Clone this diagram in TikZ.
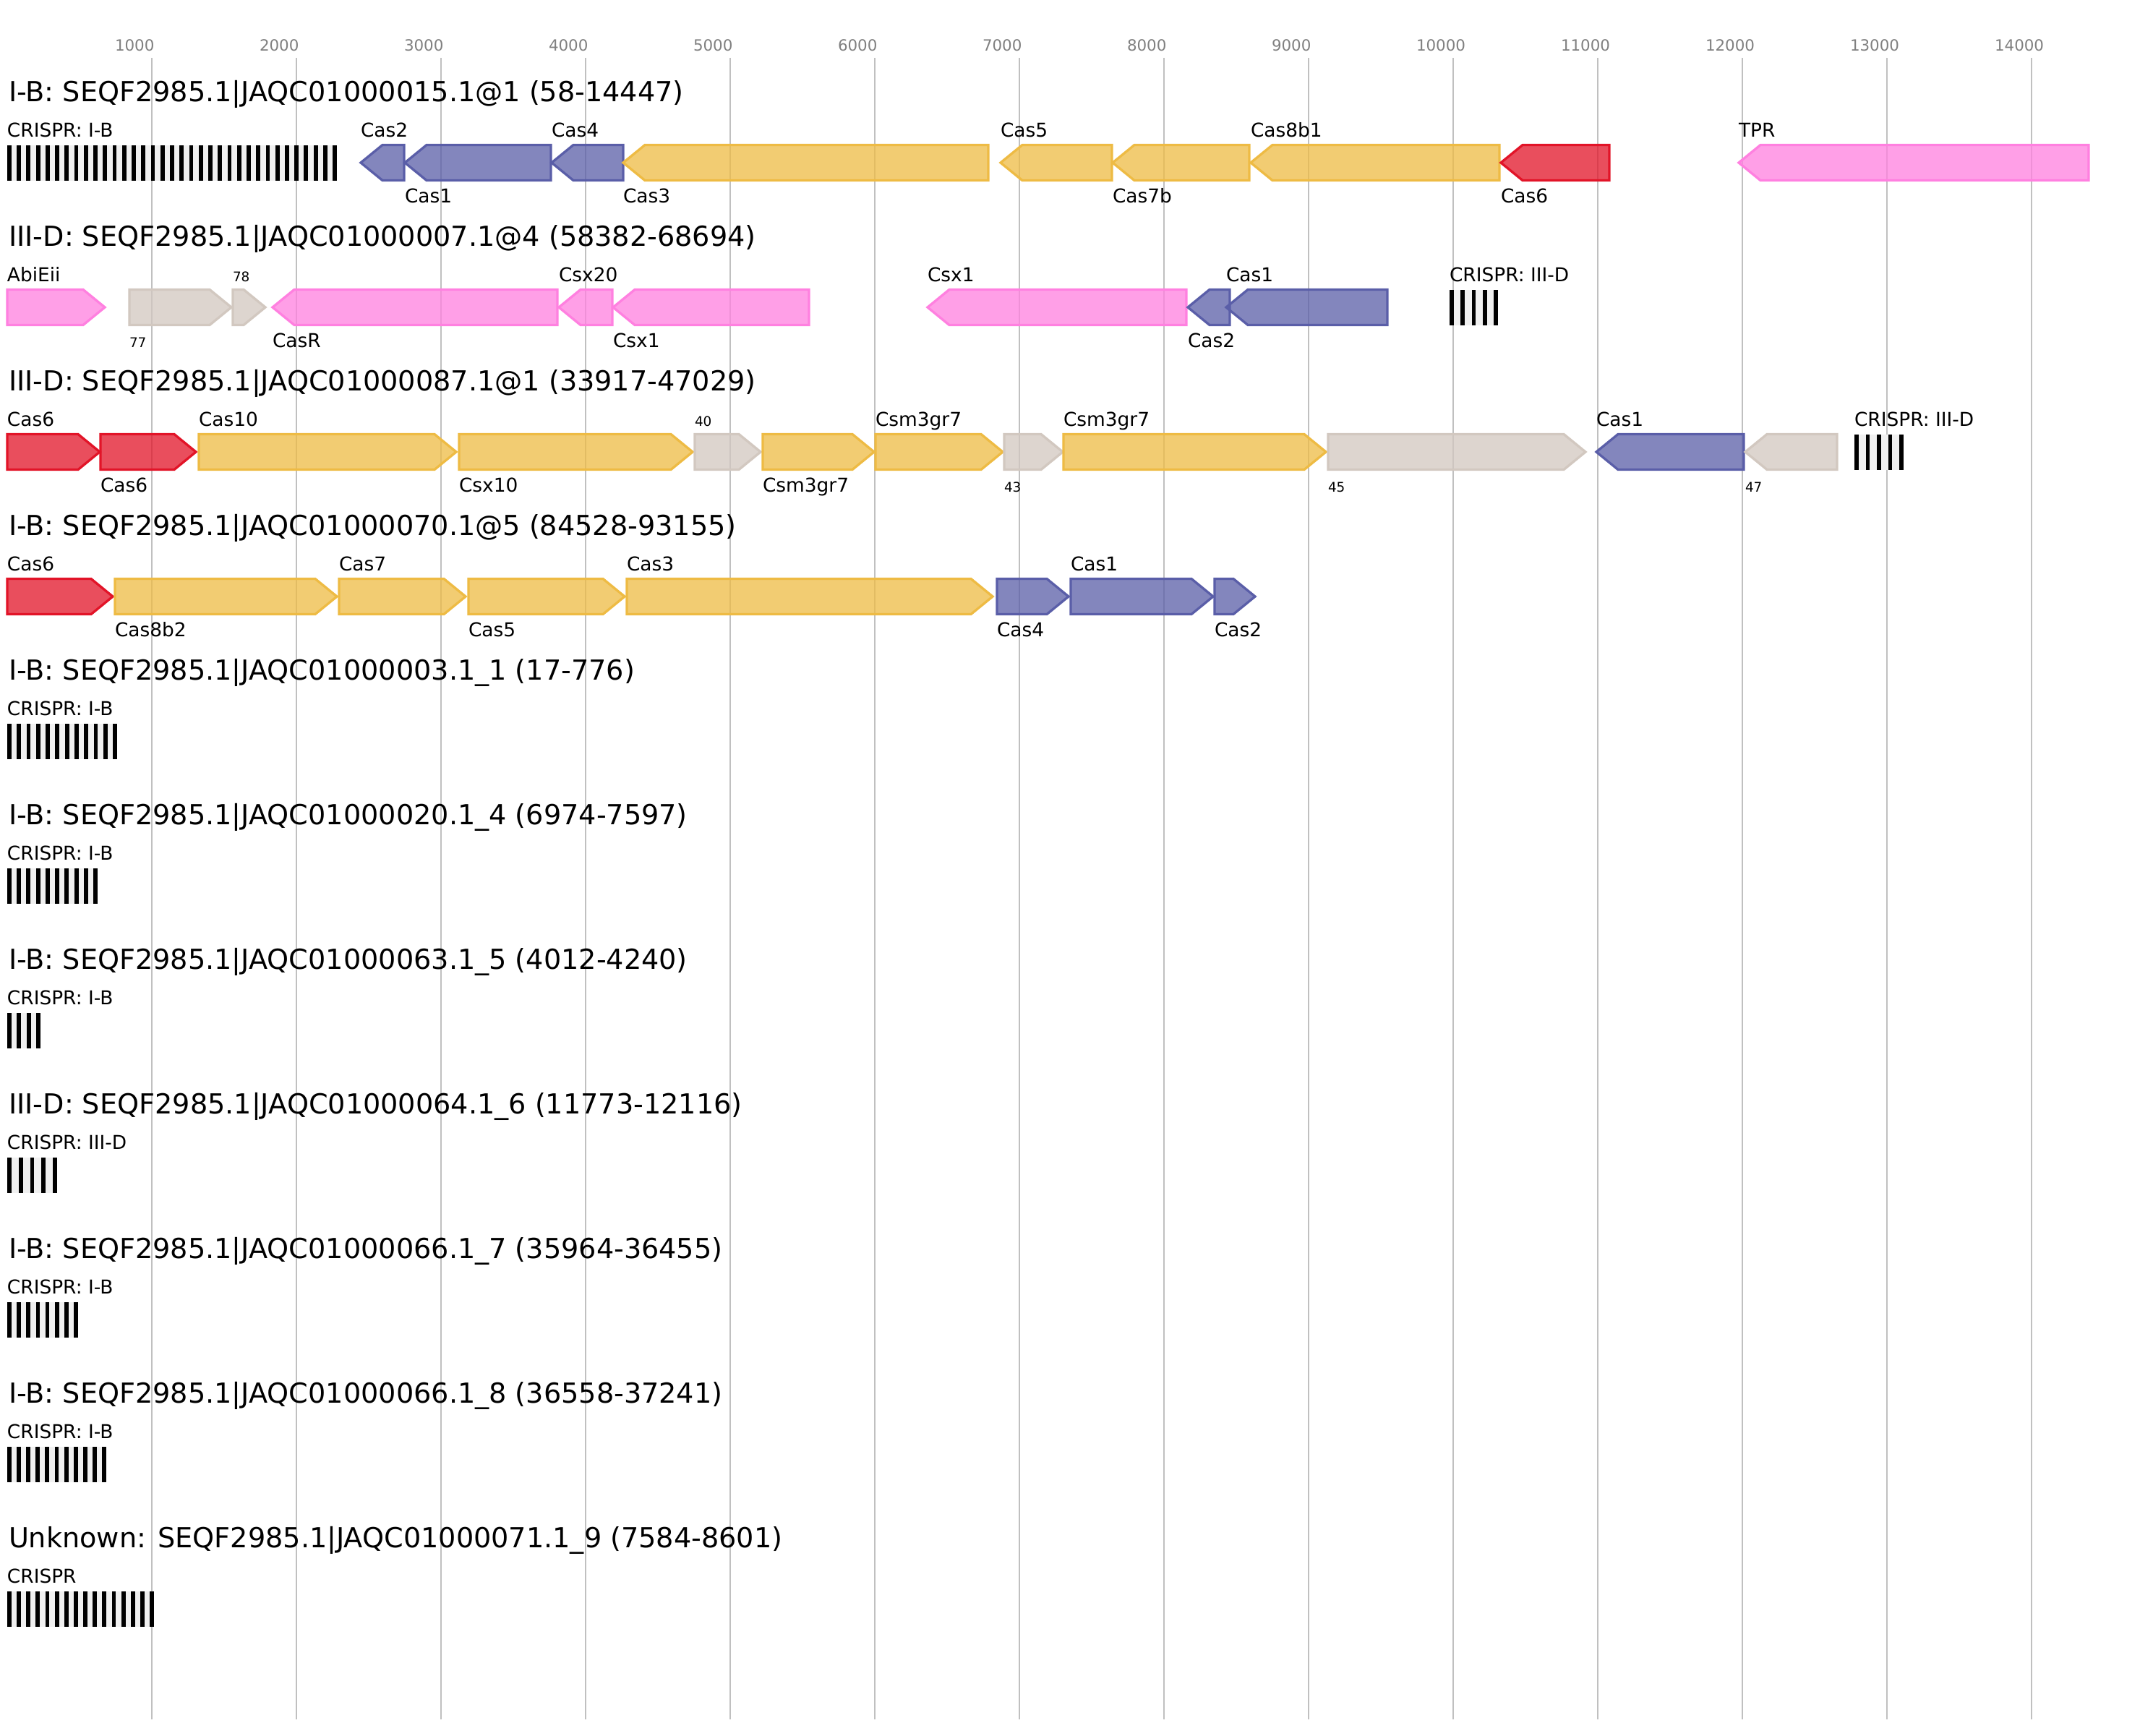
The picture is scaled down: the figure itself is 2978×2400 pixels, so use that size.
\documentclass[tikz,border=0pt]{standalone}
\usepackage{fontspec}
\setmainfont{DejaVu Sans}
\definecolor{cblue}{RGB}{90,94,168}
\definecolor{cyellow}{RGB}{238,187,68}
\definecolor{cred}{RGB}{226,20,40}
\definecolor{cpink}{RGB}{255,128,224}
\definecolor{cgray}{RGB}{210,200,192}
\definecolor{gridgray}{RGB}{192,192,192}
\definecolor{tickgray}{RGB}{128,128,128}
\definecolor{barlight}{RGB}{240,240,240}
\tikzset{
 gene/.style={draw=#1, fill=#1, fill opacity=0.75, line width=1.65pt},
 lbl/.style={font=\fontsize{13.2}{15}\selectfont, anchor=base west, inner sep=0pt, outer sep=0pt},
 sml/.style={font=\fontsize{9.2}{11}\selectfont, anchor=base west, inner sep=0pt, outer sep=0pt},
 ttl/.style={font=\fontsize{19.1}{22}\selectfont, anchor=base west, inner sep=0pt, outer sep=0pt},
 tck/.style={font=\fontsize{10.7}{12}\selectfont, text=tickgray, anchor=base west, inner sep=0pt, outer sep=0pt},
 gridln/.style={draw=gridgray, line width=1pt}
}
\newcommand\gF[4]{%
  \pgfmathsetmacro\hl{min(30,0.7*(#2-#1))}%
  \draw[gene=#4] (#1,#3-24.5) -- (#2-\hl,#3-24.5) -- (#2,#3) -- (#2-\hl,#3+24.5) -- (#1,#3+24.5) -- cycle;}
\newcommand\gR[4]{%
  \pgfmathsetmacro\hl{min(30,0.7*(#2-#1))}%
  \draw[gene=#4] (#1,#3) -- (#1+\hl,#3-24.5) -- (#2,#3-24.5) -- (#2,#3+24.5) -- (#1+\hl,#3+24.5) -- cycle;}
\newcommand\cArr[4]{%
  \fill[barlight] (#1,#3-24.5) rectangle (#2,#3+24.5);
  \pgfmathsetmacro\pp{(#2-#1-5.8)/(#4-1)}%
  \pgfmathtruncatemacro\nn{#4-1}%
  \foreach \i in {0,...,\nn} \fill[black] ({#1+\i*\pp},#3-24.5) rectangle ({#1+\i*\pp+5.8},#3+24.5);}
\begin{document}
\begin{tikzpicture}[x=0.5pt,y=-0.5pt]
\useasboundingbox (0,0) rectangle (2978,2400);
\fill[white] (0,0) rectangle (2978,2400);
% grid and ticks
\foreach \k in {1,...,14} {
  \pgfmathsetmacro\gx{10+200*\k}
  \draw[gridln] (\gx,80) -- (\gx,2378);
  \pgfmathtruncatemacro\bp{1000*\k}
  \node[tck] (tick\k) at (\gx-51,70) {\bp};
}
% ===== Row 1 =====
\node[ttl] (t1) at (12,140) {I-B: SEQF2985.1|JAQC01000015.1@1 (58-14447)};
\cArr{10}{466}{225}{35}
\node[lbl] (r1crispr) at (10,189) {CRISPR: I-B};
\gR{499}{559}{225}{cblue}   \node[lbl] (r1cas2) at (499,189) {Cas2};
\gR{560}{762}{225}{cblue}   \node[lbl] (r1cas1) at (560,280) {Cas1};
\gR{763}{862}{225}{cblue}   \node[lbl] (r1cas4) at (763,189) {Cas4};
\gR{862}{1367}{225}{cyellow} \node[lbl] (r1cas3) at (862,280) {Cas3};
\gR{1384}{1538}{225}{cyellow} \node[lbl] (r1cas5) at (1384,189) {Cas5};
\gR{1539}{1728}{225}{cyellow} \node[lbl] (r1cas7b) at (1539,280) {Cas7b};
\gR{1730}{2074}{225}{cyellow} \node[lbl] (r1cas8b1) at (1730,189) {Cas8b1};
\gR{2076}{2226}{225}{cred}  \node[lbl] (r1cas6) at (2076,280) {Cas6};
\gR{2405}{2889}{225}{cpink} \node[lbl] (r1tpr) at (2405,189) {TPR};
% ===== Row 2 =====
\node[ttl] (t2) at (12,340) {III-D: SEQF2985.1|JAQC01000007.1@4 (58382-68694)};
\gF{10}{145}{425}{cpink}   \node[lbl] (r2abi) at (10,389) {AbiEii};
\gF{179}{320}{425}{cgray}  \node[sml] (r2g77) at (179,480) {77};
\gF{322}{367}{425}{cgray}  \node[sml] (r2g78) at (322,389) {78};
\gR{377}{771}{425}{cpink}  \node[lbl] (r2casr) at (377,480) {CasR};
\gR{773}{847}{425}{cpink}  \node[lbl] (r2csx20) at (773,389) {Csx20};
\gR{848}{1119}{425}{cpink} \node[lbl] (r2csx1a) at (848,480) {Csx1};
\gR{1283}{1641}{425}{cpink} \node[lbl] (r2csx1b) at (1283,389) {Csx1};
\gR{1643}{1701}{425}{cblue} \node[lbl] (r2cas2) at (1643,480) {Cas2};
\gR{1696}{1919}{425}{cblue} \node[lbl] (r2cas1) at (1696,389) {Cas1};
\cArr{2005}{2072}{425}{5}
\node[lbl] (r2crispr) at (2005,389) {CRISPR: III-D};
% ===== Row 3 =====
\node[ttl] (t3) at (12,540) {III-D: SEQF2985.1|JAQC01000087.1@1 (33917-47029)};
\gF{10}{138}{625}{cred}     \node[lbl] (r3cas6a) at (10,589) {Cas6};
\gF{139}{271}{625}{cred}    \node[lbl] (r3cas6b) at (139,680) {Cas6};
\gF{275}{631}{625}{cyellow} \node[lbl] (r3cas10) at (275,589) {Cas10};
\gF{635}{958}{625}{cyellow} \node[lbl] (r3csx10) at (635,680) {Csx10};
\gF{961}{1052}{625}{cgray}  \node[sml] (r3g40) at (961,589) {40};
\gF{1055}{1209}{625}{cyellow} \node[lbl] (r3csm3a) at (1055,680) {Csm3gr7};
\gF{1211}{1387}{625}{cyellow} \node[lbl] (r3csm3b) at (1211,589) {Csm3gr7};
\gF{1389}{1470}{625}{cgray}  \node[sml] (r3g43) at (1389,680) {43};
\gF{1471}{1834}{625}{cyellow} \node[lbl] (r3csm3c) at (1471,589) {Csm3gr7};
\gF{1837}{2193}{625}{cgray}  \node[sml] (r3g45) at (1837,680) {45};
\gR{2208}{2412}{625}{cblue}  \node[lbl] (r3cas1) at (2208,589) {Cas1};
\gR{2414}{2541}{625}{cgray}  \node[sml] (r3g47) at (2414,680) {47};
\cArr{2565}{2633}{625}{5}
\node[lbl] (r3crispr) at (2565,589) {CRISPR: III-D};
% ===== Row 4 =====
\node[ttl] (t4) at (12,740) {I-B: SEQF2985.1|JAQC01000070.1@5 (84528-93155)};
\gF{10}{156}{825}{cred}      \node[lbl] (r4cas6) at (10,789) {Cas6};
\gF{159}{466}{825}{cyellow}  \node[lbl] (r4cas8b2) at (159,880) {Cas8b2};
\gF{469}{644}{825}{cyellow}  \node[lbl] (r4cas7) at (469,789) {Cas7};
\gF{648}{864}{825}{cyellow}  \node[lbl] (r4cas5) at (648,880) {Cas5};
\gF{867}{1373}{825}{cyellow} \node[lbl] (r4cas3) at (867,789) {Cas3};
\gF{1379}{1478}{825}{cblue}  \node[lbl] (r4cas4) at (1379,880) {Cas4};
\gF{1481}{1678}{825}{cblue}  \node[lbl] (r4cas1) at (1481,789) {Cas1};
\gF{1680}{1736}{825}{cblue}  \node[lbl] (r4cas2) at (1680,880) {Cas2};
% ===== Rows 5-11 =====
\node[ttl] (t5) at (12,940) {I-B: SEQF2985.1|JAQC01000003.1\_1 (17-776)};
\node[lbl] (r5crispr) at (10,989) {CRISPR: I-B};
\cArr{10}{162}{1025}{12}
\node[ttl] (t6) at (12,1140) {I-B: SEQF2985.1|JAQC01000020.1\_4 (6974-7597)};
\node[lbl] (r6crispr) at (10,1189) {CRISPR: I-B};
\cArr{10}{135}{1225}{10}
\node[ttl] (t7) at (12,1340) {I-B: SEQF2985.1|JAQC01000063.1\_5 (4012-4240)};
\node[lbl] (r7crispr) at (10,1389) {CRISPR: I-B};
\cArr{10}{56}{1425}{4}
\node[ttl] (t8) at (12,1540) {III-D: SEQF2985.1|JAQC01000064.1\_6 (11773-12116)};
\node[lbl] (r8crispr) at (10,1589) {CRISPR: III-D};
\cArr{10}{79}{1625}{5}
\node[ttl] (t9) at (12,1740) {I-B: SEQF2985.1|JAQC01000066.1\_7 (35964-36455)};
\node[lbl] (r9crispr) at (10,1789) {CRISPR: I-B};
\cArr{10}{108}{1825}{8}
\node[ttl] (t10) at (12,1940) {I-B: SEQF2985.1|JAQC01000066.1\_8 (36558-37241)};
\node[lbl] (r10crispr) at (10,1989) {CRISPR: I-B};
\cArr{10}{147}{2025}{11}
\node[ttl] (t11) at (12,2140) {Unknown: SEQF2985.1|JAQC01000071.1\_9 (7584-8601)};
\node[lbl] (r11crispr) at (10,2189) {CRISPR};
\cArr{10}{213}{2225}{16}
\end{tikzpicture}
\end{document}
